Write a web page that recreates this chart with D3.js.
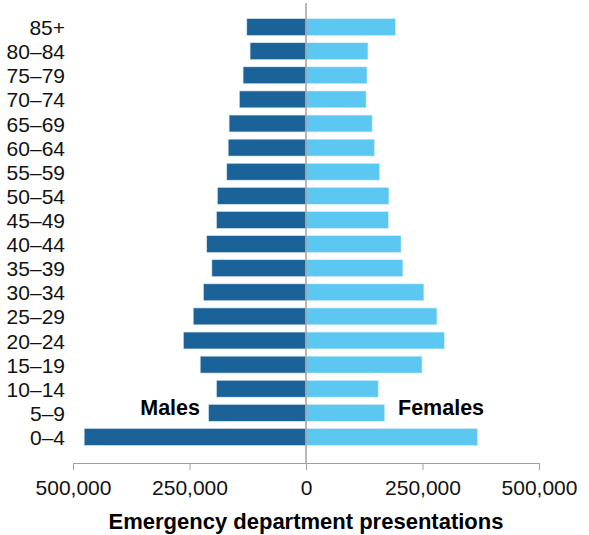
<html><head>
<script src="https://cdn.jsdelivr.net/npm/d3@7"></script>
<style>
  body { margin: 0; background: white; }
  text { font-family: "Liberation Sans", Arial, sans-serif; }
</style>
</head>
<body>
<svg width="589" height="535"></svg>
<script>
  // age groups, top to bottom
  let ages = ["85+", "80–84", "75–79", "70–74", "65–69", "60–64", "55–59", "50–54", "45–49",
              "40–44", "35–39", "30–34", "25–29", "20–24", "15–19", "10–14", "5–9", "0–4"];
  let males = [127000, 120000, 135000, 143000, 165000, 167000, 170000, 190000, 192000,
               213000, 202000, 220000, 242000, 263000, 227000, 192000, 209000, 476000];
  let females = [192000, 133000, 131000, 129000, 142000, 147000, 158000, 178000, 177000,
                 204000, 208000, 253000, 281000, 297000, 249000, 155000, 169000, 368000];
  let tickVals = [-500000, -250000, 0, 250000, 500000];

  let svg = d3.select("svg");

  let x = d3.scaleLinear().domain([-500000, 500000]).range([73, 539]);
  let y = d3.scaleBand().domain(ages).range([15, 449]).paddingInner(0.3).paddingOuter(0.15);

  // male bars (left)
  svg.selectAll(".m").data(ages).enter().append("rect")
      .attr("class", "m")
      .attr("x", (d, i) => x(-males[i]))
      .attr("y", d => y(d))
      .attr("width", (d, i) => x(0) - x(-males[i]))
      .attr("height", y.bandwidth())
      .style("fill", "#1a6298")
      .style("stroke", "#cfe3ef")
      .style("stroke-width", 0.6);

  // female bars (right)
  svg.selectAll(".f").data(ages).enter().append("rect")
      .attr("class", "f")
      .attr("x", x(0))
      .attr("y", d => y(d))
      .attr("width", (d, i) => x(females[i]) - x(0))
      .attr("height", y.bandwidth())
      .style("fill", "#5cc8f2")
      .style("stroke", "#d6f1fc")
      .style("stroke-width", 0.6);

  // zero line
  svg.append("line")
      .attr("x1", x(0)).attr("x2", x(0))
      .attr("y1", 3).attr("y2", 463)
      .style("stroke", "#a0a0a0").style("stroke-width", 1.5);

  // category labels
  svg.selectAll(".lab").data(ages).enter().append("text")
      .attr("x", 65)
      .attr("y", d => y(d) + y.bandwidth() / 2 + 8)
      .attr("text-anchor", "end")
      .style("font-size", "21px")
      .style("fill", "#111")
      .text(d => d);

  // x axis
  let axis = svg.append("g")
      .attr("transform", "translate(0,463)")
      .call(d3.axisBottom(x).tickValues(tickVals).tickSize(7).tickPadding(10)
        .tickFormat(d => d3.format(",")(Math.abs(d))));
  axis.select(".domain").style("stroke", "#a0a0a0");
  axis.selectAll(".tick line").style("stroke", "#a0a0a0");
  axis.selectAll(".tick text")
      .style("font-size", "21px")
      .style("fill", "#111")
      .style("font-family", "'Liberation Sans', Arial, sans-serif");

  // axis title
  svg.append("text")
      .attr("x", 306).attr("y", 529)
      .attr("text-anchor", "middle")
      .style("font-size", "22px").style("font-weight", "bold")
      .text("Emergency department presentations");

  // series labels
  svg.append("text")
      .attr("x", 200).attr("y", 415)
      .attr("text-anchor", "end")
      .style("font-size", "21.5px").style("font-weight", "bold")
      .text("Males");
  svg.append("text")
      .attr("x", 398).attr("y", 415)
      .style("font-size", "21.5px").style("font-weight", "bold")
      .text("Females");
</script>
</body>
</html>
